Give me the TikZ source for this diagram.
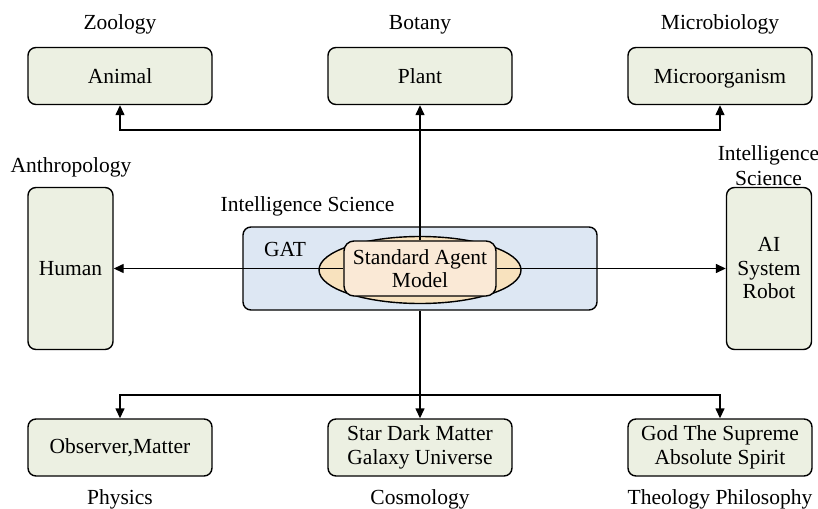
\documentclass[tikz,border=0pt]{standalone}
\usepackage{fontspec}
\setmainfont{Liberation Serif}
\usetikzlibrary{arrows.meta,shapes.geometric}

\definecolor{boxfill}{RGB}{236,240,226}
\definecolor{gatfill}{RGB}{221,231,243}
\definecolor{ovalfill}{RGB}{248,226,190}
\definecolor{corefill}{RGB}{250,233,214}

\tikzset{
  every node/.style={font=\fontsize{21.5}{23.5}\selectfont},
  fieldbox/.style={draw=black, line width=1.4pt, fill=boxfill, rounded corners=8pt,
    align=center, inner sep=0pt},
  widebox/.style={fieldbox, minimum width=184pt, minimum height=57pt},
  tallbox/.style={fieldbox, minimum width=85pt, minimum height=162pt},
  caption/.style={anchor=base, inner sep=0pt},
  link/.style={line width=1.4pt, -{Triangle[length=10pt,width=9pt]}},
  plain/.style={line width=1.4pt}
}

\begin{document}
\begin{tikzpicture}[x=1pt,y=-1pt]
  \useasboundingbox (0,0) rectangle (818,508);

  % central model
  \node[draw, line width=1.4pt, fill=gatfill, rounded corners=8pt,
        minimum width=354pt, minimum height=83pt] (gat) at (420,268.5) {};
  \node[draw, line width=1.4pt, fill=ovalfill, ellipse, inner sep=0pt,
        minimum width=202pt, minimum height=67pt] (oval) at (420,270) {};
  \node[draw, line width=1.4pt, fill=corefill, rounded corners=10pt, align=center,
        inner sep=0pt, minimum width=152pt, minimum height=55pt] (sam) at (420,268.5)
        {Standard Agent\\Model};
  \node[caption] (gatlbl) at (285,256) {GAT};
  \node[caption] (islbl) at (307.5,211) {Intelligence Science};

  % upper row
  \node[widebox] (animal) at (120,76) {Animal};
  \node[widebox] (plant)  at (420,76) {Plant};
  \node[widebox, text depth=0pt] (micro) at (720,76) {Microorganism};
  \node[caption] (zoo) at (120,30) {Zoology};
  \node[caption] (bot) at (420,30) {Botany};
  \node[caption] (mic) at (720,30) {Microbiology};

  % side columns
  \node[tallbox] (human) at (70.5,268.5) {Human};
  \node[tallbox] (ai)    at (769,268.5) {AI\\System\\Robot};
  \node[caption] (anth) at (71,172) {Anthropology};
  \node[caption] (isr) at (768.5,160) {Intelligence};
  \node[caption] (isr2) at (768.5,185) {Science};

  % lower row
  \node[widebox] (obs)  at (120,447.5) {Observer,Matter};
  \node[widebox] (star) at (420,447.5) {Star Dark Matter\\Galaxy Universe};
  \node[widebox] (god)  at (720,447.5) {God The Supreme\\Absolute Spirit};
  \node[caption] (phy) at (120,504) {Physics};
  \node[caption] (cos) at (420,504) {Cosmology};
  \node[caption] (the) at (720,504) {Theology Philosophy};

  % upward connectors
  \coordinate (tophub) at (420,130);
  \draw[link] (sam.north) -- (plant.south);
  \draw[link] (tophub) -| (animal.south);
  \draw[link] (tophub) -| (micro.south);

  % sideways connectors
  \draw[link] (sam.west) -- (sam.west -| human.east);
  \draw[link] (sam.east) -- (sam.east -| ai.west);

  % downward connectors
  \coordinate (bothub) at (420,395);
  \draw[plain] (gat.south) -- (bothub);
  \draw[link] (bothub) -- (star.north);
  \draw[link] (bothub) -| (obs.north);
  \draw[link] (bothub) -| (god.north);
\end{tikzpicture}
\end{document}
